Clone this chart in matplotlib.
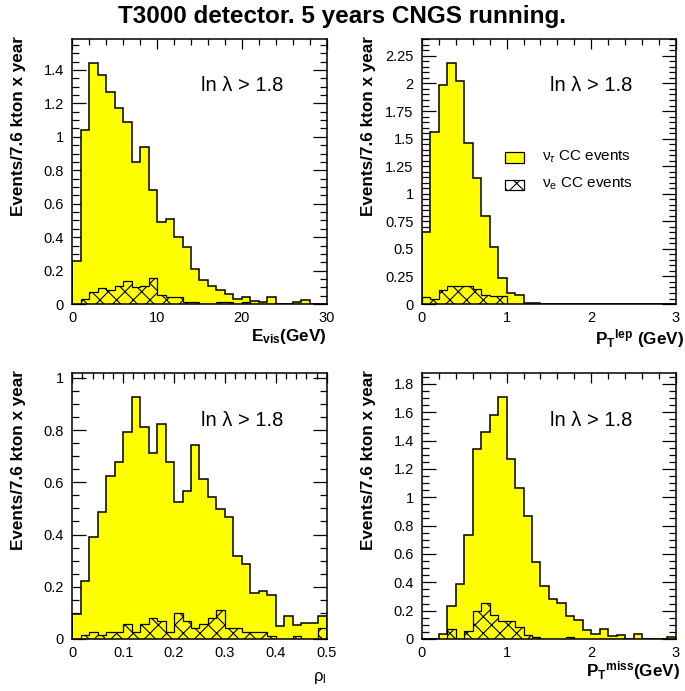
import numpy as np
import matplotlib
matplotlib.use('Agg')
import matplotlib.pyplot as plt
from matplotlib.patches import Rectangle
from matplotlib.ticker import MultipleLocator, FuncFormatter

plt.rcParams['font.family'] = ['Liberation Sans', 'DejaVu Sans']
plt.rcParams['mathtext.fontset'] = 'custom'
plt.rcParams['mathtext.rm'] = 'Liberation Sans'
plt.rcParams['mathtext.it'] = 'Liberation Sans:italic'
plt.rcParams['mathtext.bf'] = 'Liberation Sans:bold'
plt.rcParams['hatch.linewidth'] = 0.8

# histogram contents (30 bins each)
evis_edges = np.linspace(0, 30, 31)
evis_tau = [0.26, 1.04, 1.44, 1.37, 1.27, 1.17, 1.09, 0.85, 0.94, 0.68,
            0.49, 0.51, 0.40, 0.34, 0.21, 0.145, 0.105, 0.083, 0.058, 0.028,
            0.044, 0.016, 0.014, 0.044, 0, 0, 0.012, 0.022, 0, 0]
evis_e = [0, 0.03, 0.07, 0.097, 0.085, 0.11, 0.14, 0.10, 0.11, 0.153,
          0.056, 0.044, 0.042, 0.014, 0.014, 0, 0, 0.01, 0.01, 0,
          0.01, 0, 0, 0, 0, 0, 0, 0, 0, 0]

ptlep_edges = np.linspace(0, 3, 31)
ptlep_tau = [0.65, 1.56, 1.99, 2.19, 2.02, 1.46, 1.145, 0.795, 0.515, 0.232,
             0.096, 0.078, 0.012, 0.006, 0, 0, 0, 0, 0, 0,
             0, 0, 0, 0, 0, 0, 0, 0, 0, 0]
ptlep_e = [0.066, 0.048, 0.127, 0.166, 0.166, 0.166, 0.139, 0.081, 0.072, 0.072,
           0, 0, 0, 0, 0, 0, 0, 0, 0, 0,
           0, 0, 0, 0, 0, 0, 0, 0, 0, 0]

rho_edges = np.linspace(0, 0.5, 31)
rho_tau = [0.096, 0.221, 0.389, 0.487, 0.626, 0.676, 0.794, 0.926, 0.811, 0.712,
           0.823, 0.676, 0.524, 0.566, 0.744, 0.611, 0.545, 0.499, 0.466, 0.316,
           0.286, 0.175, 0.185, 0.170, 0.050, 0.088, 0.052, 0.060, 0.060, 0.088]
rho_e = [0, 0.015, 0.028, 0.015, 0.028, 0.028, 0.056, 0.028, 0.056, 0.082,
         0.070, 0.028, 0.098, 0.070, 0.041, 0.056, 0.082, 0.111, 0.041, 0.041,
         0.028, 0.028, 0.028, 0.013, 0, 0, 0.013, 0, 0, 0.041]

ptmiss_edges = np.linspace(0, 3, 31)
ptmiss_tau = [0, 0, 0.033, 0.233, 0.39, 0.735, 1.337, 1.457, 1.581, 1.706,
              1.271, 1.067, 0.867, 0.54, 0.376, 0.282, 0.256, 0.164, 0.132, 0.061,
              0.033, 0.07, 0.021, 0.028, 0, 0.033, 0, 0, 0, 0.016]
ptmiss_e = [0, 0, 0, 0.07, 0, 0.056, 0.195, 0.251, 0.171, 0.125,
            0.125, 0.085, 0.028, 0.016, 0, 0, 0, 0.016, 0, 0,
            0, 0, 0, 0, 0, 0, 0, 0, 0, 0]

YELLOW = '#ffff00'
YLABEL = 'Events/7.6 kton x year'


# ROOT-like labels: no trailing zeros
def fmt_plain(v, pos):
    return ('%.2f' % v).rstrip('0').rstrip('.')


def draw_panel(ax, edges, tau, nue, ymax, xmaj, xmin, ymaj, ymin):
    ax.stairs(tau, edges, fill=True, facecolor=YELLOW, edgecolor='none', zorder=2)
    ax.stairs(tau, edges, color='black', lw=1.1, zorder=3)
    ax.stairs(nue, edges, fill=True, facecolor='none', edgecolor='black',
              hatch='xx', lw=0.9, zorder=4)
    ax.set_xlim(edges[0], edges[-1])
    ax.set_ylim(0, ymax)
    ax.xaxis.set_major_locator(MultipleLocator(xmaj))
    ax.xaxis.set_minor_locator(MultipleLocator(xmin))
    ax.yaxis.set_major_locator(MultipleLocator(ymaj))
    ax.yaxis.set_minor_locator(MultipleLocator(ymin))
    ax.xaxis.set_major_formatter(FuncFormatter(fmt_plain))
    ax.yaxis.set_major_formatter(FuncFormatter(fmt_plain))
    ax.tick_params(which='both', direction='in', top=True, right=True, bottom=False,
                   labelsize=10.5, width=0.9)
    ax.tick_params(axis='x', which='major', length=7, pad=5)
    ax.tick_params(axis='x', which='minor', length=4)
    ax.tick_params(axis='y', which='major', length=10, pad=6)
    ax.tick_params(axis='y', which='minor', length=5)
    for s in ax.spines.values():
        s.set_linewidth(1.1)
        s.set_zorder(5)
    ax.text(0.666, 0.823, 'ln λ > 1.8', transform=ax.transAxes, fontsize=14.5,
            ha='center', va='center')
    ax.text(-0.21, 1.01, YLABEL, transform=ax.transAxes, rotation=90,
            fontsize=12.3, fontweight='bold', ha='center', va='top')


fig = plt.figure(figsize=(6.85, 6.91), dpi=100)
ax1 = fig.add_axes([0.1055, 0.560, 0.3714, 0.384])
ax2 = fig.add_axes([0.616, 0.560, 0.3708, 0.384])
ax3 = fig.add_axes([0.1055, 0.0753, 0.3714, 0.385])
ax4 = fig.add_axes([0.616, 0.0753, 0.3708, 0.385])

draw_panel(ax1, evis_edges, evis_tau, evis_e, 1.587, 10, 2, 0.2, 0.05)
draw_panel(ax2, ptlep_edges, ptlep_tau, ptlep_e, 2.406, 1, 0.2, 0.25, 0.05)
draw_panel(ax3, rho_edges, rho_tau, rho_e, 1.019, 0.1, 0.02, 0.2, 0.05)
draw_panel(ax4, ptmiss_edges, ptmiss_tau, ptmiss_e, 1.877, 1, 0.2, 0.2, 0.05)

# axis titles
ax1.text(1.0, -0.124, r'$\mathbf{E_{vis}}$(GeV)', transform=ax1.transAxes,
         fontsize=12.3, fontweight='bold', ha='right', va='center')
ax2.text(1.03, -0.13, r'$\mathbf{P_{T}{}^{lep}}$ (GeV)', transform=ax2.transAxes,
         fontsize=12.3, fontweight='bold', ha='right', va='center')
ax3.text(1.0, -0.147, r'ρ$_\mathrm{l}$', transform=ax3.transAxes,
         fontsize=12, ha='right', va='center')
ax4.text(1.016, -0.118, r'$\mathbf{P_{T}{}^{miss}}$(GeV)', transform=ax4.transAxes,
         fontsize=12.3, fontweight='bold', ha='right', va='center')

# legend in the second panel
ax2.add_patch(Rectangle((0.327, 0.531), 0.075, 0.041, transform=ax2.transAxes,
                        facecolor=YELLOW, edgecolor='black', lw=0.9, zorder=6))
ax2.add_patch(Rectangle((0.327, 0.429), 0.075, 0.040, transform=ax2.transAxes,
                        facecolor='white', edgecolor='black', hatch='xx', lw=0.9, zorder=6))
ax2.text(0.471, 0.554, r'$\mathrm{\nu}_\tau$ CC events', transform=ax2.transAxes,
         fontsize=11, ha='left', va='center')
ax2.text(0.471, 0.452, r'$\mathrm{\nu}_\mathrm{e}$ CC events', transform=ax2.transAxes,
         fontsize=11, ha='left', va='center')

fig.suptitle('T3000 detector. 5 years CNGS running.', fontsize=17.5,
             fontweight='bold', y=0.993)

fig.savefig('out.png', dpi=100)
